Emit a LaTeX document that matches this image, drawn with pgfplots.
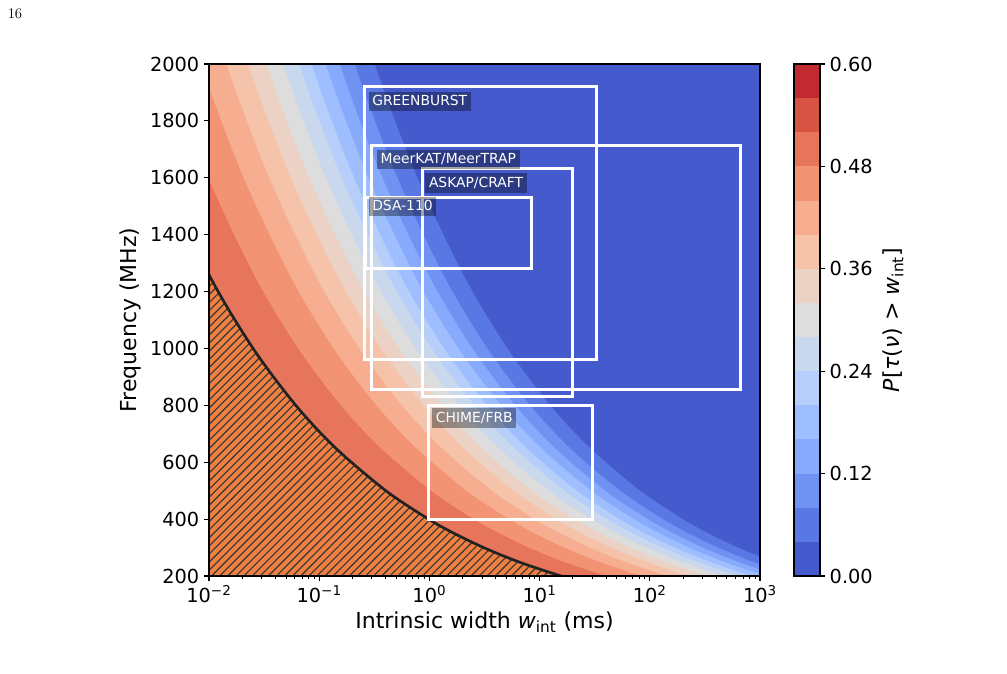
\documentclass[border=0pt]{standalone}
\usepackage{fontspec}
\usepackage{pgfplots}
\pgfplotsset{compat=1.18}
\usetikzlibrary{patterns.meta}
\newfontfamily\dv{DejaVu Sans}

% coolwarm, 15 filled levels from 0.00 to 0.60
\definecolor{cw0}{RGB}{69,91,205}
\definecolor{cw1}{RGB}{89,120,227}
\definecolor{cw2}{RGB}{112,146,243}
\definecolor{cw3}{RGB}{135,170,252}
\definecolor{cw4}{RGB}{159,190,255}
\definecolor{cw5}{RGB}{181,206,250}
\definecolor{cw6}{RGB}{202,216,238}
\definecolor{cw7}{RGB}{221,221,221}
\definecolor{cw8}{RGB}{236,210,196}
\definecolor{cw9}{RGB}{245,194,170}
\definecolor{cw10}{RGB}{247,173,143}
\definecolor{cw11}{RGB}{242,147,116}
\definecolor{cw12}{RGB}{231,117,91}
\definecolor{cw13}{RGB}{215,83,68}
\definecolor{cw14}{RGB}{193,42,48}
\definecolor{hatchfill}{RGB}{237,128,66}
\definecolor{hatchline}{RGB}{52,52,52}
\definecolor{edgeline}{RGB}{34,34,34}

\tikzset{
  survey/.style={draw=white, line width=2.25pt, line join=miter},
  lbl/.style={anchor=north west, fill=black, fill opacity=0.36, text opacity=1,
    text=white, font=\dv\fontsize{10.4}{12}\selectfont,
    inner xsep=2.8pt, inner ysep=2.5pt, text height=7.7pt, text depth=1.8pt},
}
% filled level: smooth boundary curve, closed far outside the visible window
\pgfplotsset{level/.style={fill=#1, draw=none, smooth, tension=0.5}}

\begin{document}
\begin{tikzpicture}
\useasboundingbox (0,0) rectangle (755.25pt,505.5pt);
\node[inner sep=0pt, font=\fontsize{11}{13}\selectfont] at (11.25pt,495pt) {16};

\begin{axis}[
  at={(156.75pt,73.5pt)}, anchor=south west,
  scale only axis, width=413.25pt, height=384pt,
  xmode=log, xmin=0.01, xmax=1000, ymin=200, ymax=2000,
  xtick={0.01,0.1,1,10,100,1000},
  xticklabels={10\textsuperscript{−2},10\textsuperscript{−1},10\textsuperscript{0},10\textsuperscript{1},10\textsuperscript{2},10\textsuperscript{3}},
  minor xtick={0.02,0.03,0.04,0.05,0.06,0.07,0.08,0.09,
               0.2,0.3,0.4,0.5,0.6,0.7,0.8,0.9,
               2,3,4,5,6,7,8,9,20,30,40,50,60,70,80,90,
               200,300,400,500,600,700,800,900},
  ytick={200,400,600,800,1000,1200,1400,1600,1800,2000},
  tick pos=left, tick align=outside,
  major tick length=3.75pt, minor tick length=2.1pt,
  every tick/.style={black, line width=0.8pt},
  every minor tick/.style={black, line width=0.6pt},
  axis line style={line width=0.8pt},
  tick label style={font=\dv\fontsize{14.5}{16}\selectfont},
  /pgf/number format/assume math mode=true,
  /pgf/number format/1000 sep={},
  xlabel={Intrinsic width \textit{w}\textsubscript{int} (ms)},
  ylabel={Frequency (MHz)},
  label style={font=\dv\fontsize{16.5}{19}\selectfont},
  xlabel style={at={(axis description cs:0.5,-0.09)}, anchor=center},
  ylabel style={at={(axis description cs:-0.1434,0.5)}, anchor=center},
  axis on top,
]
% lowest level fills the whole plane
\addplot[fill=cw0, draw=none] coordinates {(0.0001,100) (100000,100) (100000,3000) (0.0001,3000)} --cycle;
% each higher level covers the side of its boundary with smaller w and lower frequency
\addplot[level=cw1] coordinates {(7789.7,160) (3190.6,200) (1306.9,250) (630.25,300) (340.19,350) (199.41,400) (81.68,500) (28.60,650) (12.463,800) (5.105,1000) (2.0910,1250) (0.77896,1600) (0.31906,2000) (0.13069,2500) (0.0001,2500) (0.0001,160)} --cycle;
\addplot[level=cw2] coordinates {(5122.4,160) (2098.1,200) (859.4,250) (414.45,300) (223.71,350) (131.13,400) (53.71,500) (18.806,650) (8.196,800) (3.357,1000) (1.3750,1250) (0.51224,1600) (0.20981,2000) (0.085939,2500) (0.0001,2500) (0.0001,160)} --cycle;
\addplot[level=cw3] coordinates {(3745.6,160) (1534.2,200) (628.4,250) (303.05,300) (163.58,350) (95.89,400) (39.275,500) (13.751,650) (5.993,800) (2.4547,1000) (1.00545,1250) (0.37456,1600) (0.15342,2000) (0.062840,2500) (0.0001,2500) (0.0001,160)} --cycle;
\addplot[level=cw4] coordinates {(2795.9,160) (1145.2,200) (469.07,250) (226.21,300) (122.10,350) (71.57,400) (29.317,500) (10.265,650) (4.4734,800) (1.8323,1000) (0.75051,1250) (0.27959,1600) (0.11452,2000) (0.046907,2500) (0.0001,2500) (0.0001,160)} --cycle;
\addplot[level=cw5] coordinates {(2072.6,160) (848.9,200) (347.72,250) (167.69,300) (90.52,350) (53.06,400) (21.733,500) (7.609,650) (3.3162,800) (1.3583,1000) (0.55636,1250) (0.20726,1600) (0.084894,2000) (0.034772,2500) (0.0001,2500) (0.0001,160)} --cycle;
\addplot[level=cw6] coordinates {(1601.4,160) (655.9,200) (268.67,250) (129.57,300) (69.94,350) (40.996,400) (16.792,500) (5.879,650) (2.5623,800) (1.0495,1000) (0.42988,1250) (0.16014,1600) (0.065594,2000) (0.026867,2500) (0.0001,2500) (0.0001,160)} --cycle;
\addplot[level=cw7] coordinates {(1145.6,160) (469.25,200) (192.20,250) (92.69,300) (50.033,350) (29.328,400) (12.013,500) (4.2060,650) (1.8330,800) (0.7508,1000) (0.30753,1250) (0.11456,1600) (0.046925,2000) (0.019220,2500) (0.0001,2500) (0.0001,160)} --cycle;
\addplot[level=cw8] coordinates {(810.1,160) (331.81,200) (135.91,250) (65.543,300) (35.379,350) (20.738,400) (8.494,500) (2.9741,650) (1.2961,800) (0.5309,1000) (0.21746,1250) (0.081009,1600) (0.033181,2000) (0.013591,2500) (0.0001,2500) (0.0001,160)} --cycle;
\addplot[level=cw9] coordinates {(551.5,160) (225.88,200) (92.52,250) (44.617,300) (24.083,350) (14.117,400) (5.782,500) (2.0246,650) (0.88233,800) (0.3614,1000) (0.14803,1250) (0.055145,1600) (0.022588,2000) (0.0092518,2500) (0.0001,2500) (0.0001,160)} --cycle;
\addplot[level=cw10] coordinates {(351.1,160) (143.81,200) (58.906,250) (28.407,300) (15.334,350) (8.988,400) (3.6816,500) (1.2890,650) (0.56177,800) (0.2301,1000) (0.094249,1250) (0.035111,1600) (0.014381,2000) (0.0058906,2500) (0.0001,2500) (0.0001,160)} --cycle;
\addplot[level=cw11] coordinates {(205.84,160) (84.31,200) (34.534,250) (16.654,300) (8.990,350) (5.2696,400) (2.1584,500) (0.75571,650) (0.32935,800) (0.1349,1000) (0.055255,1250) (0.020584,1600) (0.0084313,2000) (0.0034534,2500) (0.0001,2500) (0.0001,160)} --cycle;
\addplot[level=cw12] coordinates {(98.07,160) (40.169,200) (16.453,250) (7.9346,300) (4.2829,350) (2.5106,400) (1.0283,500) (0.36004,650) (0.15691,800) (0.06427,1000) (0.026325,1250) (0.0098068,1600) (0.0040169,2000) (0.0016453,2500) (0.0001,2500) (0.0001,160)} --cycle;
% excluded region, hatched
\addplot[level=hatchfill] coordinates {(38.33,160) (15.70,200) (6.4307,250) (3.1012,300) (1.6740,350) (0.98125,400) (0.40192,500) (0.14072,650) (0.061328,800) (0.02512,1000) (0.010289,1250) (0.0038330,1600) (0.00157,2000) (0.00064307,2500) (0.0001,2500) (0.0001,160)} --cycle;
\addplot[draw=none, smooth, tension=0.5, pattern={Lines[angle=45,distance=4.3pt,line width=0.85pt]}, pattern color=hatchline] coordinates {(38.33,160) (15.70,200) (6.4307,250) (3.1012,300) (1.6740,350) (0.98125,400) (0.40192,500) (0.14072,650) (0.061328,800) (0.02512,1000) (0.010289,1250) (0.0038330,1600) (0.00157,2000) (0.00064307,2500) (0.0001,2500) (0.0001,160)} --cycle;
\addplot[edgeline, line width=2pt, smooth, tension=0.5] coordinates {(38.33,160) (15.70,200) (6.4307,250) (3.1012,300) (1.6740,350) (0.98125,400) (0.40192,500) (0.14072,650) (0.061328,800) (0.02512,1000) (0.010289,1250) (0.0038330,1600) (0.00157,2000)};

% survey parameter ranges
\addplot[survey] coordinates {(0.256,960) (33,960) (33,1920) (0.256,1920)} --cycle;
\addplot[survey] coordinates {(0.30,856) (670,856) (670,1712) (0.30,1712)} --cycle;
\addplot[survey] coordinates {(0.87,832) (20,832) (20,1632) (0.87,1632)} --cycle;
\addplot[survey] coordinates {(0.262,1280) (8.4,1280) (8.4,1530) (0.262,1530)} --cycle;
\addplot[survey] coordinates {(0.983,400) (30,400) (30,800) (0.983,800)} --cycle;

\node[lbl] at (axis cs:0.279,1903) {GREENBURST};
\node[lbl] at (axis cs:0.3324,1698) {MeerKAT/MeerTRAP};
\node[lbl] at (axis cs:0.9122,1616) {ASKAP/CRAFT};
\node[lbl] at (axis cs:0.279,1534) {DSA-110};
\node[lbl] at (axis cs:1.0558,790) {CHIME/FRB};
\end{axis}

% colour scale
\begin{axis}[
  at={(595.5pt,73.5pt)}, anchor=south west,
  scale only axis, width=19.5pt, height=384pt,
  xmin=0, xmax=1, ymin=0, ymax=0.6,
  xtick=\empty,
  ytick={0,0.12,0.24,0.36,0.48,0.6},
  ytick pos=right, yticklabel pos=right, tick align=outside,
  major tick length=3.75pt,
  every tick/.style={black, line width=0.8pt},
  axis line style={line width=0.8pt},
  tick label style={font=\dv\fontsize{14.5}{16}\selectfont},
  /pgf/number format/assume math mode=true,
  yticklabel style={/pgf/number format/.cd, fixed, fixed zerofill, precision=2},
  ylabel={\textit{P}[\textit{τ}(\textit{ν}) > \textit{w}\textsubscript{int}]},
  ylabel style={font=\dv\fontsize{16.5}{19}\selectfont, at={(axis description cs:3.81,0.5)}, anchor=center},
  axis on top,
]
\addplot[fill=cw0, draw=none] coordinates {(0,0) (1,0) (1,0.04) (0,0.04)} --cycle;
\addplot[fill=cw1, draw=none] coordinates {(0,0.04) (1,0.04) (1,0.08) (0,0.08)} --cycle;
\addplot[fill=cw2, draw=none] coordinates {(0,0.08) (1,0.08) (1,0.12) (0,0.12)} --cycle;
\addplot[fill=cw3, draw=none] coordinates {(0,0.12) (1,0.12) (1,0.16) (0,0.16)} --cycle;
\addplot[fill=cw4, draw=none] coordinates {(0,0.16) (1,0.16) (1,0.20) (0,0.20)} --cycle;
\addplot[fill=cw5, draw=none] coordinates {(0,0.20) (1,0.20) (1,0.24) (0,0.24)} --cycle;
\addplot[fill=cw6, draw=none] coordinates {(0,0.24) (1,0.24) (1,0.28) (0,0.28)} --cycle;
\addplot[fill=cw7, draw=none] coordinates {(0,0.28) (1,0.28) (1,0.32) (0,0.32)} --cycle;
\addplot[fill=cw8, draw=none] coordinates {(0,0.32) (1,0.32) (1,0.36) (0,0.36)} --cycle;
\addplot[fill=cw9, draw=none] coordinates {(0,0.36) (1,0.36) (1,0.40) (0,0.40)} --cycle;
\addplot[fill=cw10, draw=none] coordinates {(0,0.40) (1,0.40) (1,0.44) (0,0.44)} --cycle;
\addplot[fill=cw11, draw=none] coordinates {(0,0.44) (1,0.44) (1,0.48) (0,0.48)} --cycle;
\addplot[fill=cw12, draw=none] coordinates {(0,0.48) (1,0.48) (1,0.52) (0,0.52)} --cycle;
\addplot[fill=cw13, draw=none] coordinates {(0,0.52) (1,0.52) (1,0.56) (0,0.56)} --cycle;
\addplot[fill=cw14, draw=none] coordinates {(0,0.56) (1,0.56) (1,0.60) (0,0.60)} --cycle;
\end{axis}
\end{tikzpicture}
\end{document}
